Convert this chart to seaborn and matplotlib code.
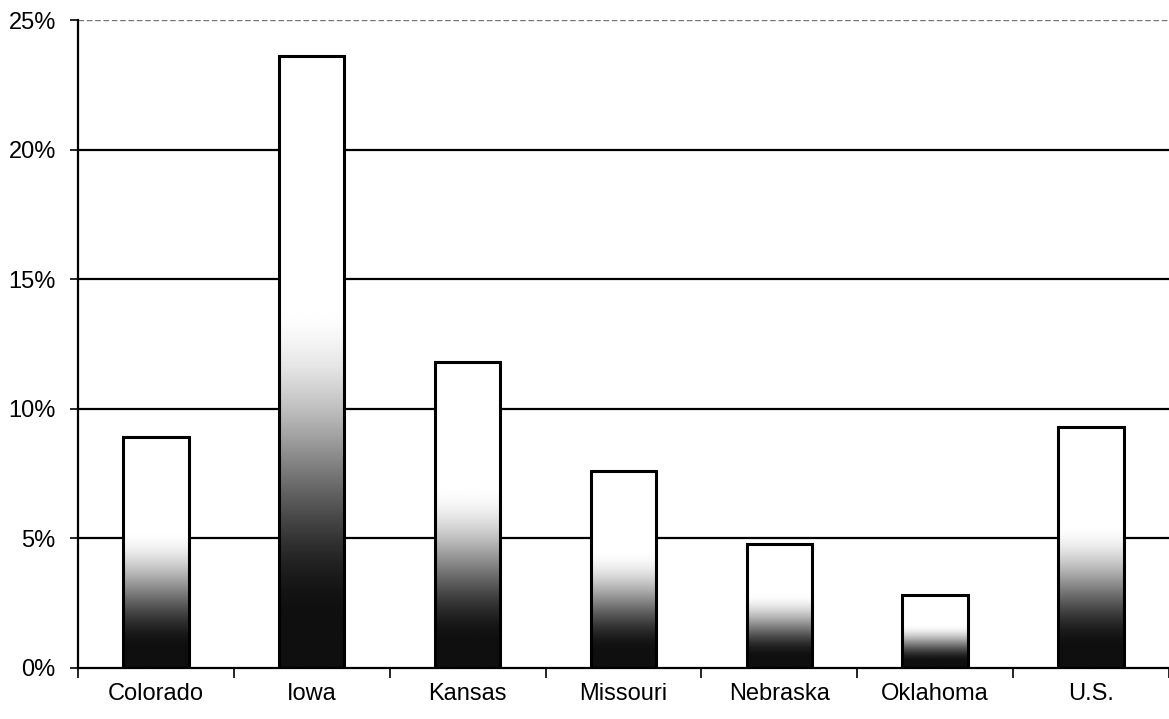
import numpy as np
import pandas as pd
import matplotlib
matplotlib.use("Agg")
import matplotlib.pyplot as plt
from matplotlib.ticker import FuncFormatter, FixedLocator
import seaborn as sns

regions = ["Colorado", "Iowa", "Kansas", "Missouri", "Nebraska", "Oklahoma", "U.S."]
shares = [8.9, 23.6, 11.8, 7.6, 4.8, 2.8, 9.3]
y_ticks = [0, 5, 10, 15, 20, 25]

sns.set_theme(style="white")
plt.rcParams["font.family"] = ["Liberation Sans", "DejaVu Sans"]
plt.rcParams["text.color"] = "black"
plt.rcParams["xtick.color"] = "black"
plt.rcParams["ytick.color"] = "black"

df = pd.DataFrame({"region": regions, "share": shares})

fig = plt.figure(figsize=(11.69, 7.19), dpi=100)
ax = fig.add_axes([0.0667, 0.071, 0.9333, 0.901])

# horizontal gridlines drawn beneath the bars
for t in y_ticks[1:-1]:
    ax.axhline(t, color="black", lw=1.6, zorder=0)
ax.axhline(y_ticks[-1], color="#777777", lw=1.0, ls=(0, (4, 2)), zorder=0)

sns.barplot(data=df, x="region", y="share", ax=ax, width=0.42,
            color="white", edgecolor="black", linewidth=2.2, zorder=2,
            saturation=1)

# shaded fill: dark at the base fading smoothly to white around mid-height
grad_rows = 256
frac = np.linspace(0, 1, grad_rows)
t = np.clip((frac - 0.08) / 0.52, 0, 1)
shade = t * t * (3 - 2 * t)
shade = 0.06 + 0.94 * shade
cmap = plt.get_cmap("gray")
for patch in list(ax.patches):
    x0, y0 = patch.get_x(), patch.get_y()
    w, h = patch.get_width(), patch.get_height()
    img = shade[:, None] * np.ones((1, 8))
    ax.imshow(img, cmap=cmap, vmin=0, vmax=1, origin="lower",
              extent=[x0, x0 + w, y0, y0 + h], aspect="auto",
              interpolation="bilinear", zorder=2.5)
    patch.set_facecolor("none")
    patch.set_zorder(3)

ax.set_xlim(-0.5, len(regions) - 0.5)
ax.set_ylim(0, 25)
ax.set_xlabel("")
ax.set_ylabel("")

ax.yaxis.set_major_locator(FixedLocator(y_ticks))
ax.yaxis.set_major_formatter(FuncFormatter(lambda v, p: f"{v:.0f}%"))
ax.tick_params(axis="y", which="major", direction="out", length=6, width=1.2,
               color="black", labelcolor="black", labelsize=17, pad=10, left=True)

ax.set_xticks(range(len(regions)))
ax.set_xticklabels(regions)
ax.set_xticks(np.arange(-0.5, len(regions), 1.0), minor=True)
ax.tick_params(axis="x", which="major", length=0, labelsize=17, pad=11,
               labelcolor="black")
ax.tick_params(axis="x", which="minor", direction="out", length=7, width=1.2,
               color="black", bottom=True)

for side in ["top", "right"]:
    ax.spines[side].set_visible(False)
for side in ["left", "bottom"]:
    ax.spines[side].set_color("black")
    ax.spines[side].set_linewidth(1.6)

fig.savefig("out.png", dpi=100, facecolor="white")
